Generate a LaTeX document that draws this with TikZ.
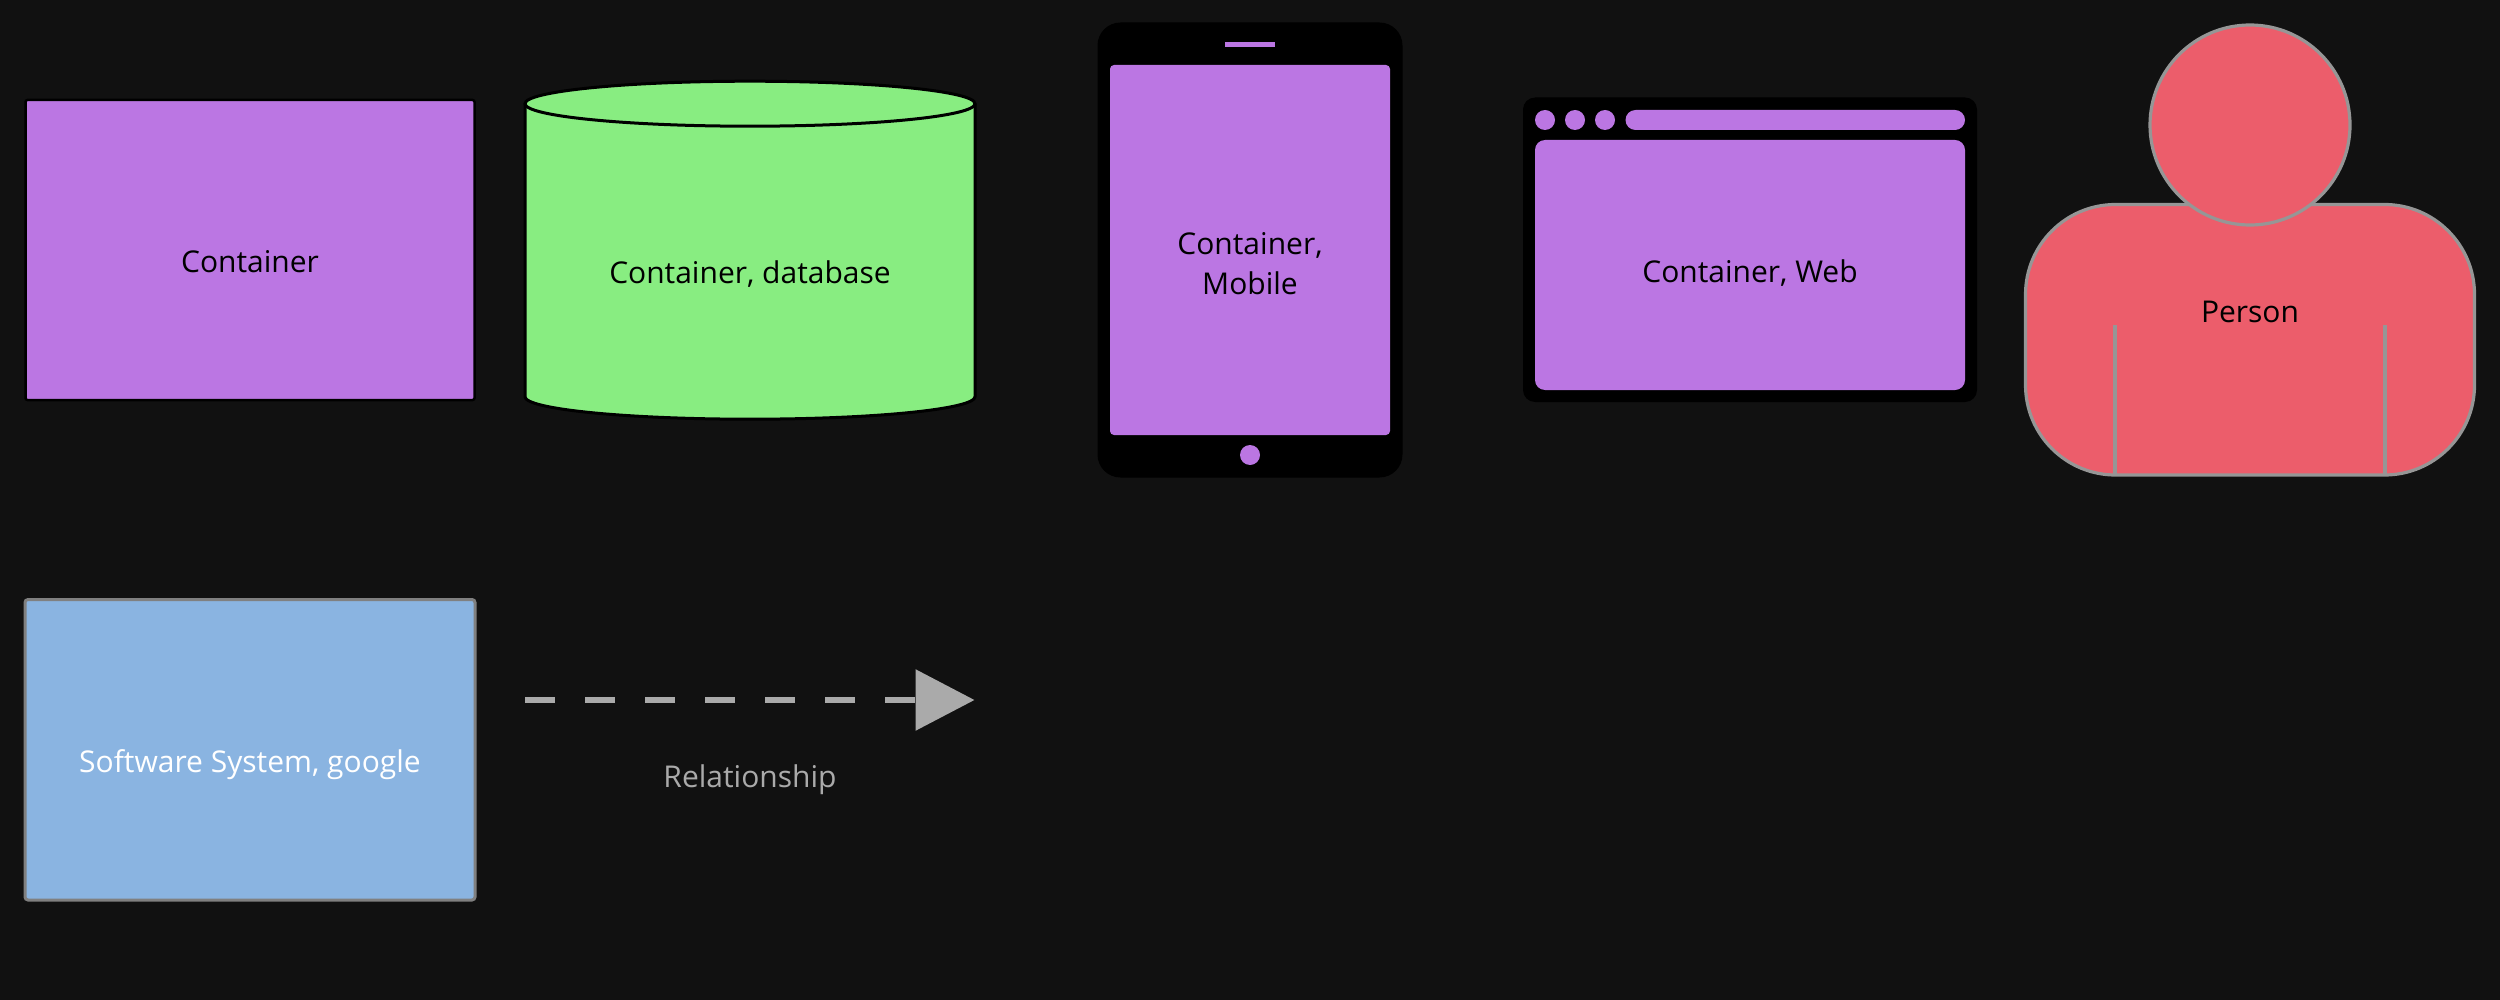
\documentclass[tikz,border=0pt]{standalone}
\usepackage{fontspec}
\setmainfont{Open Sans}
\usetikzlibrary{arrows.meta}
\definecolor{bgc}{HTML}{111111}
\definecolor{purp}{HTML}{BB76E3}
\definecolor{grn}{HTML}{88ED81}
\definecolor{redc}{HTML}{EC5D6B}
\definecolor{bluec}{HTML}{8AB4E1}
\definecolor{graye}{HTML}{969696}
\definecolor{relc}{HTML}{AAAAAA}
\tikzset{
  label text/.style={font=\fontsize{15pt}{20pt}\selectfont, text=black, align=center, inner sep=0pt},
  screen/.style={fill=purp, draw=none},
  device/.style={fill=black, draw=none},
  person part/.style={fill=redc, draw=graye, line width=1.6pt},
  person seam/.style={draw=graye, line width=1.6pt},
  relation/.style={draw=relc, line width=3pt, dash pattern=on 15pt off 15pt,
    -{Triangle[length=29.5pt,width=30pt,fill=relc]}},
}
\begin{document}
\begin{tikzpicture}[x=0.5pt,y=-0.5pt]
\useasboundingbox (0,0) rectangle (2500,1000);
\fill[bgc] (0,0) rectangle (2500,1000);
% Container
\draw[fill=purp,draw=black,line width=1.25pt,rounded corners=1pt] (25.5,100) rectangle (474.5,400);
\node[label text] (container) at (250,261.7) {Container};
% Database
\draw[fill=grn,draw=black,line width=1.5pt]
  (525,103.7) -- (525,396.7) arc[start angle=180,end angle=0,x radius=225,y radius=22.5] -- (975,103.7);
\draw[fill=grn,draw=black,line width=1.5pt] (750,103.7) ellipse[x radius=225,y radius=22.5];
\node[label text] (database) at (750,274.3) {Container, database};
% Mobile
\fill[device,rounded corners=11.5pt] (1097.5,22.5) rectangle (1402.5,477.5);
\fill[screen,rounded corners=2pt] (1110,65) rectangle (1390,435);
\fill[screen] (1225,42.5) rectangle (1275,47.5);
\fill[screen] (1250,455) circle[radius=10];
\node[label text] (mobile) at (1250,263.5) {Container,\\Mobile};
% Web
\fill[device,rounded corners=6pt] (1523,97.5) rectangle (1977,402);
\fill[screen,rounded corners=5pt] (1535,140) rectangle (1965,390);
\fill[screen] (1545,120) circle[radius=10];
\fill[screen] (1575,120) circle[radius=10];
\fill[screen] (1605,120) circle[radius=10];
\fill[screen,rounded corners=5pt] (1625.5,110) rectangle (1965,130);
\node[label text] (web) at (1750,273) {Container, Web};
% Person
\draw[person part,rounded corners=45pt] (2025.5,204.5) rectangle (2474.5,475);
\draw[person seam] (2115,325) -- (2115,475);
\draw[person seam] (2385,325) -- (2385,475);
\draw[person part] (2250,125) circle[radius=100];
\node[label text] (person) at (2250,312) {Person};
% Software system
\draw[fill=bluec,draw=graye!85!black,line width=1.5pt,rounded corners=1.5pt] (25,599.5) rectangle (475,900);
\node[label text,text=white] (system) at (250,764.5) {Software System, google};
% Relationship
\coordinate (relstart) at (525,700);
\coordinate (relend) at (974.5,700);
\draw[relation] (relstart) -- (relend);
\node[label text,text=relc] (rellabel) at (750,779.7) {Relationship};
\end{tikzpicture}
\end{document}
